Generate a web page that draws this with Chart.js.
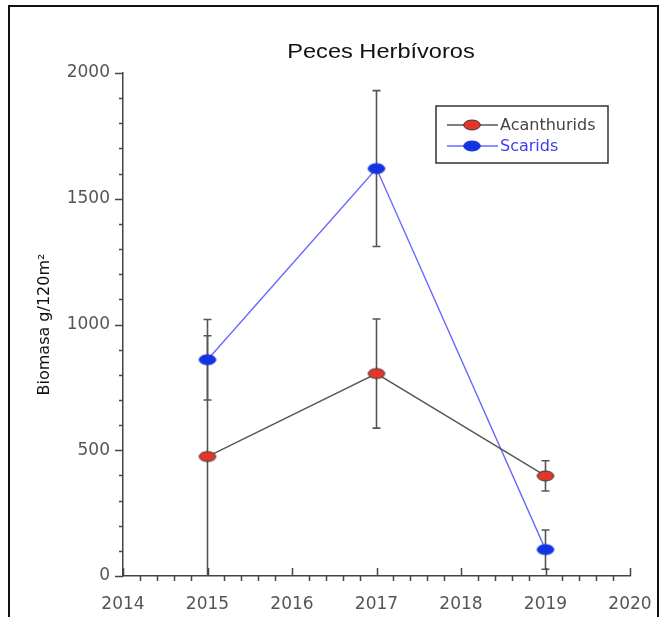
<!DOCTYPE html>
<html>
<head>
<meta charset="utf-8">
<script src="https://cdn.jsdelivr.net/npm/chart.js@4"></script>
<style>
  html, body { margin: 0; padding: 0; background: #fff; overflow: hidden; }
  #wrap { position: relative; width: 665px; height: 617px; }
  #frame { position: absolute; left: 8px; top: 5px; width: 651px; height: 700px;
           border: 2.5px solid #111; box-sizing: border-box; pointer-events: none; }
</style>
</head>
<body>
<div id="wrap">
  <canvas id="chart" width="665" height="617"></canvas>
  <div id="frame"></div>
</div>
<script>
// Datos ---------------------------------------------------------------------
const years = [2015, 2017, 2019];
const acanthurids = [475, 805, 398];
const acanthuridsErr = [480, 217, 60];
const scarids = [860, 1620, 105];
const scaridsErr = [160, 310, 78];
const xTicks = [2014, 2015, 2016, 2017, 2018, 2019, 2020];
const yTicks = [0, 500, 1000, 1500, 2000];

// Marcador eliptico
function makeMarker(fill, stroke) {
  const c = document.createElement("canvas");
  c.width = 20; c.height = 14;
  const g = c.getContext("2d");
  g.beginPath();
  g.ellipse(10, 7, 8.3, 5, 0, 0, Math.PI * 2);
  g.fillStyle = fill; g.fill();
  g.lineWidth = 1; g.strokeStyle = stroke; g.stroke();
  return c;
}
const mkRed = makeMarker("#e2362a", "#3a3a3a");
const mkBlue = makeMarker("#1233e0", "#1233e0");

// Barras de error -------------------------------------------------------------
const errorBars = {
  id: "errorBars",
  beforeDatasetsDraw(chart) {
    const { ctx, scales: { x, y } } = chart;
    const sets = [[acanthurids, acanthuridsErr], [scarids, scaridsErr]];
    ctx.save();
    ctx.strokeStyle = "#555";
    ctx.lineWidth = 1.6;
    sets.forEach(([vals, errs]) => {
      years.forEach((yr, i) => {
        const px = x.getPixelForValue(yr);
        const lo = Math.max(0, vals[i] - errs[i]);
        const hi = vals[i] + errs[i];
        const y1 = y.getPixelForValue(lo), y2 = y.getPixelForValue(hi);
        ctx.beginPath();
        ctx.moveTo(px, y1); ctx.lineTo(px, y2);
        ctx.moveTo(px - 4, y2); ctx.lineTo(px + 4, y2);
        if (lo > 0) { ctx.moveTo(px - 4, y1); ctx.lineTo(px + 4, y1); }
        ctx.stroke();
      });
    });
    ctx.restore();
  }
};

// Ticks, titulo y leyenda -----------------------------------------------------
const decor = {
  id: "decor",
  afterDraw(chart) {
    const { ctx, scales: { x, y } } = chart;
    const y0 = y.getPixelForValue(0);
    const x0 = x.getPixelForValue(2014);
    ctx.save();
    ctx.strokeStyle = "#444";
    ctx.lineWidth = 1.5;
    ctx.beginPath();
    for (let k = 0; k <= 30; k++) {
      const v = 2014 + k * 0.2;
      const px = Math.round(x.getPixelForValue(v)) + 0.5;
      if (k % 5 === 0) { ctx.moveTo(px, y0); ctx.lineTo(px, y0 - 8); }
      else { ctx.moveTo(px, y0); ctx.lineTo(px, y0 + 5); }
    }
    for (let k = 0; k <= 20; k++) {
      const py = Math.round(y.getPixelForValue(k * 100)) + 0.5;
      if (k % 5 === 0) { ctx.moveTo(x0, py); ctx.lineTo(x0 - 8, py); }
      else { ctx.moveTo(x0, py); ctx.lineTo(x0 - 4, py); }
    }
    ctx.stroke();

    // titulo
    ctx.fillStyle = "#111";
    ctx.font = "20px 'Liberation Sans', Arial, sans-serif";
    ctx.textAlign = "center";
    ctx.textBaseline = "alphabetic";
    ctx.save();
    ctx.translate(381, 58);
    ctx.scale(1.18, 1);
    ctx.fillText("Peces Herbívoros", 0, 0);
    ctx.restore();

    // leyenda
    ctx.strokeStyle = "#333";
    ctx.lineWidth = 1.5;
    ctx.strokeRect(436, 106, 172, 57);
    const items = [
      { label: "Acanthurids", line: "#555", text: "#444", mk: mkRed, y: 125 },
      { label: "Scarids", line: "#6a6aff", text: "#3c3cf0", mk: mkBlue, y: 146 }
    ];
    ctx.font = "16px 'DejaVu Sans', sans-serif";
    ctx.textAlign = "left";
    ctx.textBaseline = "middle";
    items.forEach(it => {
      ctx.strokeStyle = it.line;
      ctx.lineWidth = 1.4;
      ctx.beginPath(); ctx.moveTo(447, it.y); ctx.lineTo(498, it.y); ctx.stroke();
      ctx.drawImage(it.mk, 472 - 10, it.y - 7);
      ctx.fillStyle = it.text;
      ctx.fillText(it.label, 500, it.y + 1);
    });
    ctx.restore();
  }
};

const tickFont = { family: "'DejaVu Sans', sans-serif", size: 17 };

new Chart(document.getElementById("chart").getContext("2d"), {
  type: "line",
  data: {
    datasets: [
      {
        label: "Acanthurids",
        data: years.map((yr, i) => ({ x: yr, y: acanthurids[i] })),
        borderColor: "#555", borderWidth: 1.4,
        pointStyle: mkRed, pointRadius: 8, pointHoverRadius: 8
      },
      {
        label: "Scarids",
        data: years.map((yr, i) => ({ x: yr, y: scarids[i] })),
        borderColor: "#6a6aff", borderWidth: 1.4,
        pointStyle: mkBlue, pointRadius: 8, pointHoverRadius: 8
      }
    ]
  },
  options: {
    responsive: false,
    animation: false,
    layout: { padding: { top: 73, right: 35, left: 0, bottom: 0 } },
    plugins: { legend: { display: false }, title: { display: false }, tooltip: { enabled: false } },
    scales: {
      x: {
        type: "linear", min: 2014, max: 2020,
        afterBuildTicks: s => { s.ticks = xTicks.map(v => ({ value: v })); },
        afterFit: s => { s.height = 41; s.paddingLeft = 0; s.paddingRight = 0; },
        grid: { display: false, drawTicks: false },
        border: { display: true, color: "#444", width: 1.5 },
        ticks: { color: "#555", font: tickFont, padding: 18, callback: v => String(v) }
      },
      y: {
        min: 0, max: 2000,
        afterBuildTicks: s => { s.ticks = yTicks.map(v => ({ value: v })); },
        afterFit: s => { s.width = 123; s.paddingTop = 0; s.paddingBottom = 0; },
        grid: { display: false, drawTicks: false },
        border: { display: true, color: "#444", width: 1.5 },
        ticks: { color: "#555", font: tickFont, padding: 13, callback: v => String(v) },
        title: {
          display: true, text: "Biomasa g/120m²", color: "#111",
          font: { family: "'DejaVu Sans', sans-serif", size: 16 },
          padding: { top: 35, bottom: 0 }
        }
      }
    }
  },
  plugins: [errorBars, decor]
});
</script>
</body>
</html>
